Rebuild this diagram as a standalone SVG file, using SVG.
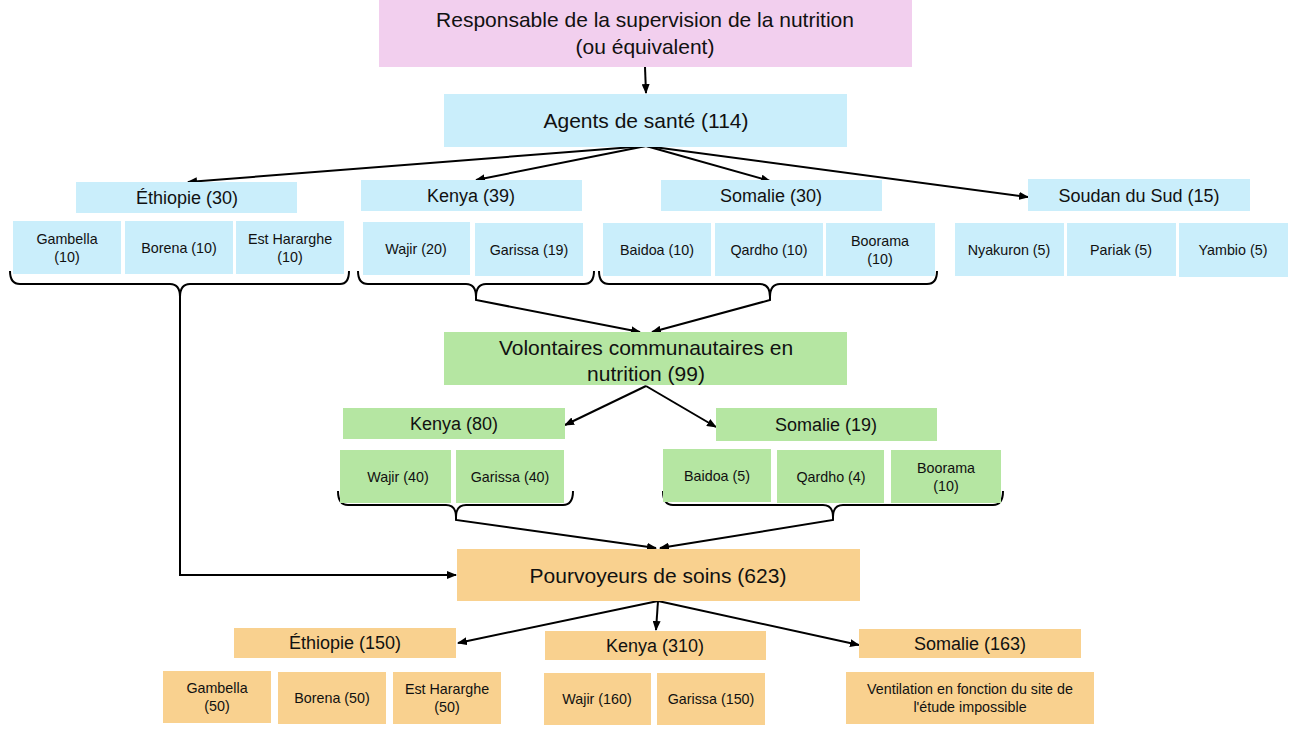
<svg xmlns="http://www.w3.org/2000/svg" width="1296" height="732" viewBox="0 0 1296 732">
<defs>
<marker id="ah" markerWidth="10" markerHeight="8" refX="9" refY="4" orient="auto" markerUnits="userSpaceOnUse">
<path d="M0,0 L10,4 L0,8 Z" fill="#000"/>
</marker>
<style>
text{font-family:"Liberation Sans",Arial,sans-serif;fill:#111;text-anchor:middle;dominant-baseline:central}
.pink{fill:#F2CFEE}
.blue{fill:#CAEEFB}
.green{fill:#B5E6A2}
.orange{fill:#F9D18F}
.big{font-size:21px}
.mid{font-size:18px}
.sm{font-size:14.3px}
.ln{fill:none;stroke:#000;stroke-width:2}
.br{fill:none;stroke:#000;stroke-width:2}
</style>
</defs>
<rect width="1296" height="732" fill="#fff"/>

<g id="connectors">
<line class="ln" x1="645" y1="67" x2="646" y2="93" marker-end="url(#ah)"/>
<line class="ln" x1="646" y1="146" x2="188" y2="182" marker-end="url(#ah)"/>
<line class="ln" x1="646" y1="146" x2="476" y2="180" marker-end="url(#ah)"/>
<line class="ln" x1="646" y1="146" x2="770" y2="181" marker-end="url(#ah)"/>
<line class="ln" x1="646" y1="146" x2="1028" y2="197" marker-end="url(#ah)"/>
<path class="br" d="M10,271 Q10,284 20,284 L170,284 Q180,284 180,297 Q180,284 190,284 L340,284 Q349,284 349,271"/>
<path class="br" d="M358,271 Q358,284 368,284 L466,284 Q476,284 476,297 Q476,284 486,284 L584,284 Q594,284 594,271"/>
<path class="br" d="M599,271 Q599,284 609,284 L760,284 Q770,284 770,297 Q770,284 780,284 L927,284 Q937,284 937,271"/>
<polyline class="ln" points="476,297 476,300 640,332" marker-end="url(#ah)"/>
<polyline class="ln" points="770,297 770,300 652,332" marker-end="url(#ah)"/>
<line class="ln" x1="646" y1="386" x2="565" y2="425" marker-end="url(#ah)"/>
<line class="ln" x1="646" y1="386" x2="716" y2="427" marker-end="url(#ah)"/>
<path class="br" d="M338,491 Q338,505 348,505 L446,505 Q456,505 456,517 Q456,505 466,505 L563,505 Q573,505 573,491"/>
<path class="br" d="M663,491 Q663,505 673,505 L823,505 Q833,505 833,517 Q833,505 843,505 L993,505 Q1003,505 1003,491"/>
<polyline class="ln" points="456,517 456,520 656,548" marker-end="url(#ah)"/>
<polyline class="ln" points="833,517 833,520 660,548" marker-end="url(#ah)"/>
<polyline class="ln" points="180,297 180,575 456,575" marker-end="url(#ah)"/>
<line class="ln" x1="658" y1="601" x2="458" y2="643" marker-end="url(#ah)"/>
<line class="ln" x1="658" y1="601" x2="656" y2="630" marker-end="url(#ah)"/>
<line class="ln" x1="658" y1="601" x2="859" y2="645" marker-end="url(#ah)"/>
</g>

<g id="n-responsable"><rect class="pink" x="379" y="0" width="533" height="67"/><text class="big" x="645" y="19">Responsable de la supervision de la nutrition</text><text class="big" x="645" y="46">(ou équivalent)</text></g>
<g id="n-agents"><rect class="blue" x="444" y="94" width="403" height="53"/><text class="big" x="646" y="120">Agents de santé (114)</text></g>

<g id="n-eth30"><rect class="blue" x="76" y="182" width="221" height="31"/><text class="mid" x="187" y="198">Éthiopie (30)</text></g>
<g id="n-gam10"><rect class="blue" x="13" y="221" width="108" height="53"/><text class="sm" x="67" y="239">Gambella</text><text class="sm" x="67" y="257">(10)</text></g>
<g id="n-bor10"><rect class="blue" x="125" y="221" width="108" height="53"/><text class="sm" x="179" y="248">Borena (10)</text></g>
<g id="n-est10"><rect class="blue" x="236" y="221" width="108" height="53"/><text class="sm" x="290" y="239">Est Hararghe</text><text class="sm" x="290" y="257">(10)</text></g>

<g id="n-ken39"><rect class="blue" x="361" y="180" width="221" height="31"/><text class="mid" x="471" y="196">Kenya (39)</text></g>
<g id="n-waj20"><rect class="blue" x="363" y="222" width="107" height="53"/><text class="sm" x="416" y="249">Wajir (20)</text></g>
<g id="n-gar19"><rect class="blue" x="475" y="223" width="108" height="53"/><text class="sm" x="529" y="250">Garissa (19)</text></g>

<g id="n-som30"><rect class="blue" x="661" y="180" width="221" height="31"/><text class="mid" x="771" y="196">Somalie (30)</text></g>
<g id="n-bai10"><rect class="blue" x="603" y="223" width="108" height="53"/><text class="sm" x="657" y="250">Baidoa (10)</text></g>
<g id="n-qar10"><rect class="blue" x="715" y="223" width="108" height="53"/><text class="sm" x="769" y="250">Qardho (10)</text></g>
<g id="n-boo10"><rect class="blue" x="826" y="223" width="109" height="53"/><text class="sm" x="880" y="241">Boorama</text><text class="sm" x="880" y="259">(10)</text></g>

<g id="n-sds15"><rect class="blue" x="1028" y="179" width="222" height="32"/><text class="mid" x="1139" y="196">Soudan du Sud (15)</text></g>
<g id="n-nya5"><rect class="blue" x="955" y="223" width="109" height="53"/><text class="sm" x="1009" y="250">Nyakuron (5)</text></g>
<g id="n-par5"><rect class="blue" x="1067" y="223" width="109" height="53"/><text class="sm" x="1121" y="250">Pariak (5)</text></g>
<g id="n-yam5"><rect class="blue" x="1179" y="223" width="109" height="54"/><text class="sm" x="1233" y="250">Yambio (5)</text></g>

<g id="n-volontaires"><rect class="green" x="444" y="332" width="403" height="53"/><text class="big" x="646" y="347">Volontaires communautaires en</text><text class="big" x="646" y="373">nutrition (99)</text></g>

<g id="n-ken80"><rect class="green" x="343" y="408" width="222" height="31"/><text class="mid" x="454" y="424">Kenya (80)</text></g>
<g id="n-waj40"><rect class="green" x="340" y="450" width="111" height="53"/><text class="sm" x="398" y="477">Wajir (40)</text></g>
<g id="n-gar40"><rect class="green" x="456" y="450" width="108" height="53"/><text class="sm" x="510" y="477">Garissa (40)</text></g>

<g id="n-som19"><rect class="green" x="716" y="408" width="221" height="33"/><text class="mid" x="826" y="425">Somalie (19)</text></g>
<g id="n-bai5"><rect class="green" x="663" y="449" width="108" height="53"/><text class="sm" x="717" y="476">Baidoa (5)</text></g>
<g id="n-qar4"><rect class="green" x="777" y="450" width="107" height="53"/><text class="sm" x="831" y="477">Qardho (4)</text></g>
<g id="n-boo10b"><rect class="green" x="891" y="450" width="110" height="53"/><text class="sm" x="946" y="468">Boorama</text><text class="sm" x="946" y="486">(10)</text></g>

<g id="n-pourvoyeurs"><rect class="orange" x="457" y="549" width="403" height="52"/><text class="big" x="658" y="575">Pourvoyeurs de soins (623)</text></g>

<g id="n-eth150"><rect class="orange" x="234" y="628" width="222" height="30"/><text class="mid" x="345" y="643">Éthiopie (150)</text></g>
<g id="n-gam50"><rect class="orange" x="163" y="671" width="108" height="52"/><text class="sm" x="217" y="688">Gambella</text><text class="sm" x="217" y="706">(50)</text></g>
<g id="n-bor50"><rect class="orange" x="278" y="672" width="108" height="52"/><text class="sm" x="332" y="698">Borena (50)</text></g>
<g id="n-est50"><rect class="orange" x="393" y="672" width="108" height="52"/><text class="sm" x="447" y="689">Est Hararghe</text><text class="sm" x="447" y="707">(50)</text></g>

<g id="n-ken310"><rect class="orange" x="545" y="631" width="221" height="29"/><text class="mid" x="655" y="646">Kenya (310)</text></g>
<g id="n-waj160"><rect class="orange" x="544" y="673" width="107" height="52"/><text class="sm" x="597" y="699">Wajir (160)</text></g>
<g id="n-gar150"><rect class="orange" x="657" y="673" width="108" height="52"/><text class="sm" x="711" y="699">Garissa (150)</text></g>

<g id="n-som163"><rect class="orange" x="859" y="629" width="222" height="29"/><text class="mid" x="970" y="644">Somalie (163)</text></g>
<g id="n-ventilation"><rect class="orange" x="846" y="672" width="248" height="52"/><text class="sm" x="970" y="689">Ventilation en fonction du site de</text><text class="sm" x="970" y="707">l'étude impossible</text></g>
</svg>
